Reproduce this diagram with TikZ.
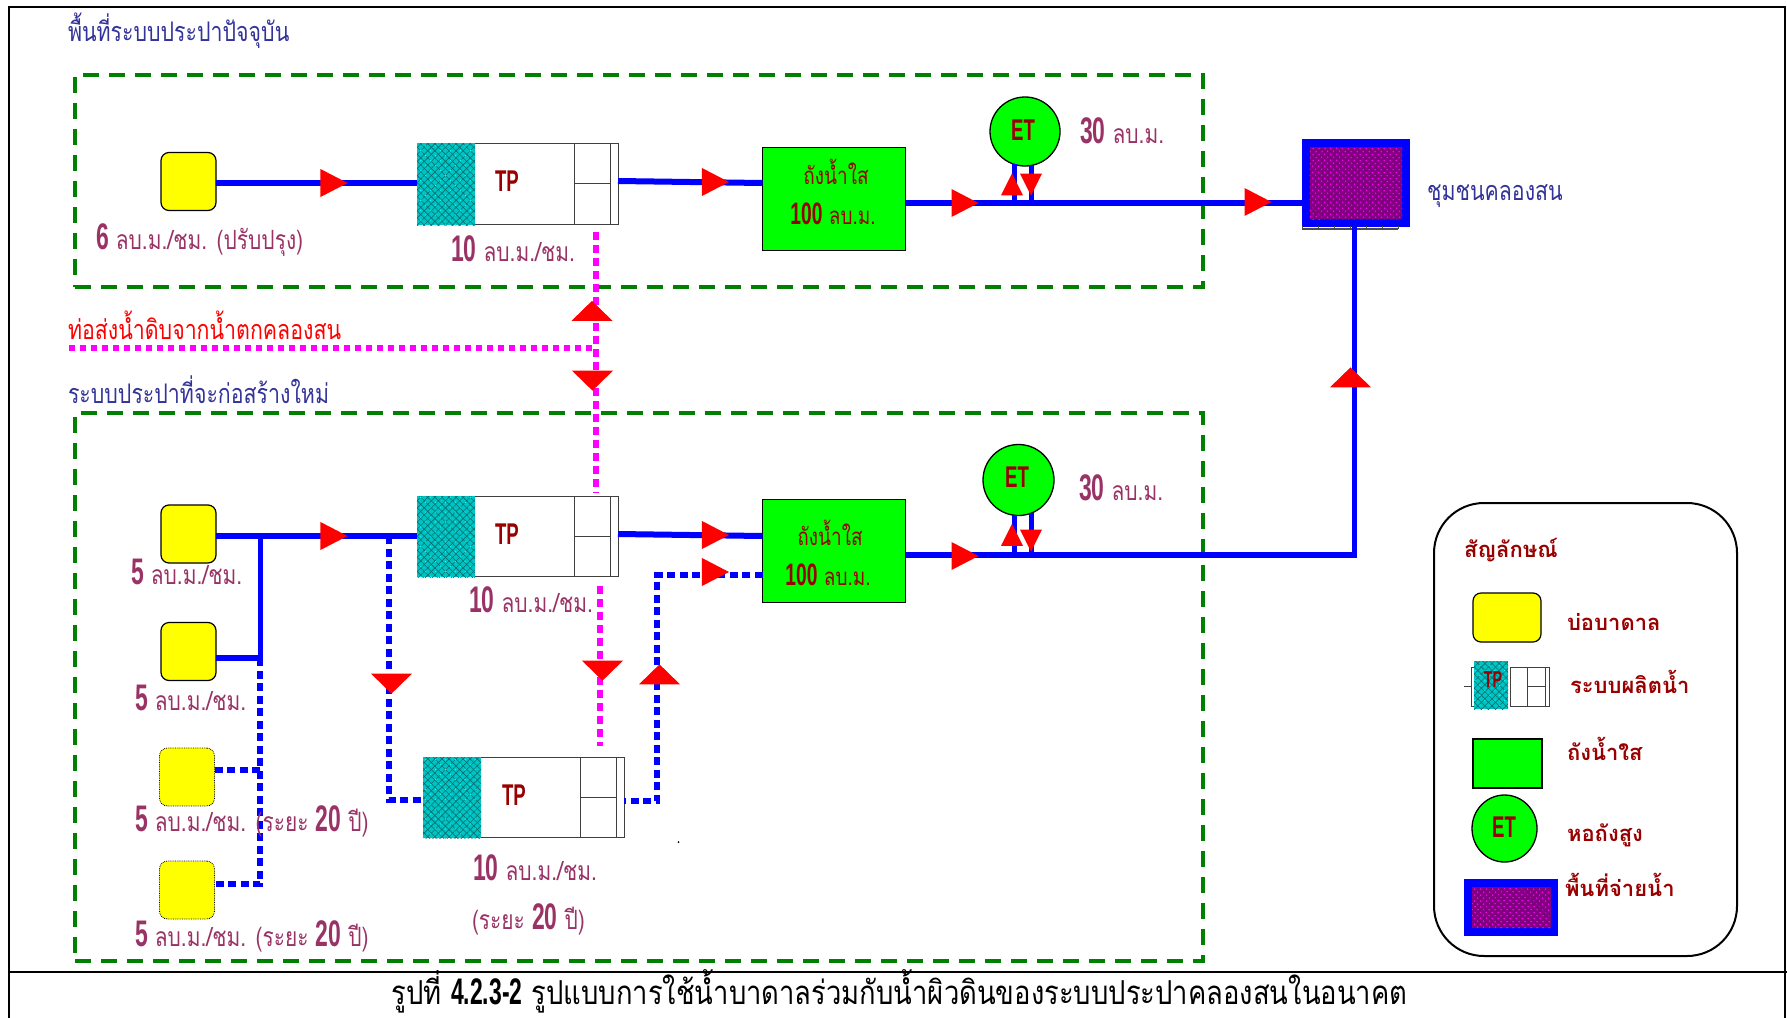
\documentclass[tikz,border=0pt]{standalone}
\usepackage{fontspec}
\usepackage{tikz}
\usetikzlibrary{shapes.geometric, patterns.meta, calc}
\newfontfamily\thaicond[Script=Thai,FakeStretch=0.79]{Loma}
\newfontfamily\thaicap[Script=Thai,FakeStretch=0.83]{Loma}
\newfontfamily\thaiwide[Script=Thai,FakeStretch=1.0]{Loma}
\newfontfamily\numfont[FakeStretch=0.62]{Liberation Sans}
\newcommand{\bignum}[1]{{\numfont\bfseries\fontsize{37}{37}\selectfont #1}}
\newcommand{\tanknum}[1]{{\numfont\bfseries\fontsize{31}{31}\selectfont #1}}
\definecolor{lblcol}{HTML}{993366}
\definecolor{navycol}{HTML}{333399}
\definecolor{darkred}{HTML}{990000}
\definecolor{boxgreen}{HTML}{008000}
\definecolor{hatchteal}{HTML}{00C4C4}
\definecolor{hatchline}{HTML}{006E6E}
\definecolor{yellow}{RGB}{255,255,0}
\definecolor{green}{RGB}{0,255,0}
\definecolor{blue}{RGB}{0,0,255}
\definecolor{red}{RGB}{255,0,0}
\definecolor{cyan}{RGB}{0,255,255}
\definecolor{magenta}{RGB}{255,0,255}
\definecolor{townpurple}{RGB}{128,0,128}

\begin{document}
\begin{tikzpicture}[x=1pt, y=-1pt,
    every node/.style={outer sep=0pt},
    thai/.style={inner sep=0pt, font=\thaicond\fontsize{27}{27}\selectfont},
    rate/.style={inner sep=0pt, text=lblcol, font=\thaicond\fontsize{26.5}{26.5}\selectfont},
    header/.style={thai, text=navycol},
    redtxt/.style={inner sep=0pt, text=darkred, font=\thaicond\fontsize{24}{24}\selectfont},
    legtxt/.style={inner sep=0pt, anchor=west, text=darkred, font=\thaiwide\bfseries\fontsize{22}{22}\selectfont},
    code/.style={inner sep=0pt, text=darkred, font=\numfont\bfseries\fontsize{30}{30}\selectfont},
    zone/.style={draw=boxgreen, line width=3.5pt, dash pattern=on 16pt off 10pt, anchor=north west, inner sep=0pt},
    well/.style={draw=black, line width=1.2pt, fill=yellow, rounded corners=8pt, inner sep=0pt, minimum width=55pt, minimum height=58pt},
    futurewell/.style={well, line width=.8pt, densely dotted},
    tank/.style={draw=black, line width=1.5pt, fill=green, anchor=north west, inner sep=0pt},
    tower/.style={draw=black, line width=1.3pt, fill=green, ellipse, inner sep=0pt},
    plant/.style={draw=black!75, line width=1pt, fill=white, anchor=north west, inner sep=0pt},
    media/.style={anchor=north west, inner sep=0pt, fill=hatchteal,
        postaction={pattern={Lines[angle=45, distance=5pt, line width=.6pt]}, pattern color=hatchline},
        postaction={pattern={Lines[angle=-45, distance=5pt, line width=.6pt]}, pattern color=hatchline},
        postaction={pattern={Dots[angle=45, distance=7pt, radius=.8pt]}, pattern color=cyan}},
    served/.style={fill=blue, anchor=north west, inner sep=0pt},
    servedin/.style={inner sep=0pt, anchor=north west, fill=townpurple, postaction={pattern={Dots[angle=45, distance=4pt, radius=.85pt]}, pattern color=magenta}},
    pipe/.style={blue, line width=6pt},
    thinpipe/.style={blue, line width=5pt},
    plan/.style={blue, line width=5.5pt, dash pattern=on 8pt off 4.5pt},
    raw/.style={magenta, line width=5.5pt, dash pattern=on 8pt off 5pt},
    triR/.style={fill=red, inner sep=0pt, isosceles triangle, isosceles triangle stretches, minimum height=27pt, minimum width=28pt},
    triU/.style={triR, shape border rotate=90, minimum height=20pt, minimum width=41pt},
    triD/.style={triR, shape border rotate=-90, minimum height=20pt, minimum width=41pt},
    triu/.style={triR, shape border rotate=90, minimum height=22pt, minimum width=22pt},
    trid/.style={triR, shape border rotate=-90, minimum height=22pt, minimum width=22pt}
]
    \useasboundingbox (0,0) rectangle (1787,1017);

    \draw[black, line width=2.5pt] (9,1030) -- (9,7) -- (1785,7) -- (1785,1030);
    \draw[black, line width=2pt] (9,972) -- (1787,972);

    \node[zone, minimum width=1128pt, minimum height=212pt] (zonea) at (75,75) {};
    \node[zone, minimum width=1128pt, minimum height=548pt] (zoneb) at (75,413) {};

    \node[well] (wella) at (188.5,181.5) {};
    \node[well] (wellb) at (188.5,534) {};
    \node[well] (wellc) at (188.5,651.5) {};
    \node[futurewell] (welld) at (187,777) {};
    \node[futurewell] (welle) at (187,890) {};

    \foreach \n/\px/\py/\ph in {a/417/143/81, b/417/496/80, c/423/757/80} {
        \node[plant, minimum width=201pt, minimum height=\ph pt] (tp\n) at (\px,\py) {};
        \node[media, minimum width=58pt, minimum height=\ph pt+1pt] (media\n) at (\px,\py) {};
        \draw[black!75, line width=1pt] ($(tp\n.north west)+(157,0)$) -- ($(tp\n.south west)+(157,0)$);
        \draw[black!75, line width=1pt] ($(tp\n.north west)+(193,0)$) -- ($(tp\n.south west)+(193,0)$);
        \draw[black!75, line width=1pt] ($(tp\n.west)+(157,0)$) -- ($(tp\n.west)+(193,0)$);
    }

    \node[tank, minimum width=143pt, minimum height=103pt] (tanka) at (762.5,147.5) {};
    \node[tank, minimum width=143pt, minimum height=103pt] (tankb) at (762.5,499.5) {};
    \node[tower, minimum width=70pt, minimum height=69pt] (towera) at (1025,131.5) {};
    \node[tower, minimum width=71pt, minimum height=71pt] (towerb) at (1018.5,480) {};
    \node[served, minimum width=108pt, minimum height=88pt] (town) at (1302,139) {};
    \node[servedin, minimum width=92.5pt, minimum height=72pt] (townin) at (1309.5,147) {};
    \draw[black!70, line width=1.5pt] (1302,229) -- (1398,229);
    \foreach \tx in {1302,1318,...,1398} {\draw[black!70, line width=.8pt] (\tx,226) -- (\tx,229);}

    \coordinate (maina) at (906,203);
    \coordinate (mainb) at (906,555);
    \coordinate (corner) at (1354,555);
    \coordinate (joint) at (260,658);
    \coordinate (splita) at (260,536);
    \coordinate (splitb) at (389,536);
    \coordinate (rawjoint) at (596,348);
    \coordinate (rawstart) at (69,348);
    \coordinate (rawtop) at (596,232);
    \coordinate (rawlow) at (596,493);
    \coordinate (rawplanta) at (600,586);
    \coordinate (rawplantb) at (600,746);
    \coordinate (returnup) at (657,801);
    \coordinate (returnin) at (657,575);

    \draw[raw] (rawtop) -- (rawlow);
    \draw[raw, dash pattern=on 6pt off 5pt] (rawstart) -- (rawjoint);
    \draw[raw] (rawplanta) -- (rawplantb);

    \draw[pipe] (wella.east |- 0,183) -- (mediaa.west |- 0,183);
    \draw[pipe] (618,181) -- (tanka.west |- 0,183);
    \draw[pipe] (maina) -- (town.west |- maina);
    \draw[thinpipe] (towera.-108) -- (towera.-108 |- maina);
    \draw[thinpipe] (towera.-80) -- (towera.-80 |- maina);

    \draw[pipe] (wellb.east |- splita) -- (mediab.west |- splita);
    \draw[pipe] (618,534) -- (tankb.west |- splita);
    \draw[thinpipe] (splita) -- (joint);
    \draw[pipe] (wellc.east |- joint) -- ([xshift=3pt]joint);
    \draw[pipe] (mainb) -- ([xshift=2.5pt]corner);
    \draw[thinpipe] (corner) -- (town.south -| corner);
    \draw[thinpipe] (towerb.-97) -- (towerb.-97 |- mainb);
    \draw[thinpipe] (towerb.-69) -- (towerb.-69 |- mainb);

    \draw[plan] (joint) -- (260,884) -- (welle.east |- 0,884);
    \draw[plan] (260,770) -- (welld.east |- 0,770);
    \draw[plan] (splitb) -- (389,800) -- (mediac.west |- 0,800);
    \draw[plan] (tankb.west |- returnin) -- (returnin) -- (returnup) -- (tpc.east |- returnup);

    \node[triR] (flowa) at (329,183) {};
    \node[triR] (flowb) at (710.5,182) {};
    \node[triR] (flowc) at (960,203) {};
    \node[triR] (flowd) at (1253,202) {};
    \node[triu] (flowe) at (1012,188.5) {};
    \node[trid] (flowf) at (1031,180.5) {};
    \node[triU] (flowg) at (592,312.5) {};
    \node[triD] (flowh) at (592.5,379) {};
    \node[triU] (flowi) at (1350.5,379) {};
    \node[triR] (flowj) at (329,536) {};
    \node[triR] (flowk) at (710.5,535) {};
    \node[triR] (flowl) at (710.5,572) {};
    \node[triR] (flowm) at (960,556) {};
    \node[triu] (flown) at (1012,539) {};
    \node[trid] (flowo) at (1031,536.5) {};
    \node[triD] (flowp) at (391.5,682) {};
    \node[triD] (flowq) at (602.5,669) {};
    \node[triU] (flowr) at (659.5,676) {};

    \node[code] (tpla) at (507,181) {TP};
    \node[code] (tplb) at (507,534) {TP};
    \node[code] (tplc) at (514,795) {TP};
    \node[code] (etla) at (1023,130) {ET};
    \node[code] (etlb) at (1017,477) {ET};

    \node[header, anchor=west] (titlea) at (68,31) {พื้นที่ระบบประปาปัจจุบัน};
    \node[header, anchor=west] (titleb) at (68,390) {ระบบประปาที่จะก่อสร้างใหม่};
    \node[thai, text=red, anchor=west] (rawname) at (68,325) {ท่อส่งน้ำดิบจากน้ำตกคลองสน};
    \node[header, anchor=west] (townname) at (1427,196) {ชุมชนคลองสน};

    \node[rate, anchor=west] (ratea) at (96,240) {\bignum{6} ลบ.ม./ชม. (ปรับปรุง)};
    \node[rate, anchor=west] (rateb) at (451,249) {\bignum{10} ลบ.ม./ชม.};
    \node[rate, anchor=west] (ratec) at (131,572) {\bignum{5} ลบ.ม./ชม.};
    \node[rate, anchor=west] (rated) at (135,698) {\bignum{5} ลบ.ม./ชม.};
    \node[rate, anchor=west] (ratee) at (135,821) {\bignum{5} ลบ.ม./ชม. (ระยะ \bignum{20} ปี)};
    \node[rate, anchor=west] (ratef) at (135,936) {\bignum{5} ลบ.ม./ชม. (ระยะ \bignum{20} ปี)};
    \node[rate, anchor=west] (rateg) at (469,600) {\bignum{10} ลบ.ม./ชม.};
    \node[rate, anchor=west] (rateh) at (473,868) {\bignum{10} ลบ.ม./ชม.};
    \node[rate, anchor=west] (ratei) at (472,919) {(ระยะ \bignum{20} ปี)};
    \node[rate, anchor=west] (ratej) at (1080,131) {\bignum{30} ลบ.ม.};
    \node[rate, anchor=west] (ratek) at (1079,488) {\bignum{30} ลบ.ม.};

    \node[redtxt] (tanklaa) at (836,172) {ถังน้ำใส};
    \node[redtxt] (tanklab) at (833,214) {\tanknum{100} ลบ.ม.};
    \node[redtxt] (tanklba) at (830,533) {ถังน้ำใส};
    \node[redtxt] (tanklbb) at (828,575) {\tanknum{100} ลบ.ม.};

    \node[circle, fill=black, inner sep=0pt, minimum size=2pt] (speck) at (678.5,842) {};

    \node[draw=black, line width=2pt, rounded corners=50pt, anchor=north west, minimum width=303pt, minimum height=453pt] (legend) at (1434,503) {};
    \node[legtxt] (legtitle) at (1464,550) {สัญลักษณ์};
    \node[well, minimum width=68pt, minimum height=49pt] (legwell) at (1507,617.5) {};
    \node[plant, minimum width=39pt, minimum height=39pt] (legplant) at (1510,667) {};
    \draw[black!75, line width=1pt] (1527,667) -- (1527,706) (1527,686) -- (1545,686) (1545,667) -- (1545,706);
    \draw[black!75, line width=1pt] (1474,667) -- (1471,667) -- (1471,706) -- (1474,706) (1464,686) -- (1471,686);
    \node[media, minimum width=34pt, minimum height=48pt] (legmedia) at (1474,661) {};
    \node[code, font=\numfont\bfseries\fontsize{23}{23}\selectfont] (legtp) at (1493,680) {TP};
    \node[tank, minimum width=69pt, minimum height=49pt] (legtank) at (1473,739) {};
    \node[tower, minimum width=65pt, minimum height=67pt] (legtower) at (1504.5,828.5) {};
    \node[code] (leget) at (1504,827) {ET};
    \node[served, minimum width=94pt, minimum height=57pt] (legserved) at (1464,879) {};
    \node[servedin, minimum width=79pt, minimum height=41pt] (legservedin) at (1472,887) {};
    \node[legtxt] (legwellt) at (1567,622) {บ่อบาดาล};
    \node[legtxt] (legplantt) at (1570,682) {ระบบผลิตน้ำ};
    \node[legtxt] (legtankt) at (1567,749) {ถังน้ำใส};
    \node[legtxt] (legtowert) at (1567,835) {หอถังสูง};
    \node[legtxt] (legservedt) at (1565,885) {พื้นที่จ่ายน้ำ};

    \node[thai, text=black, font=\thaicap\fontsize{33}{33}\selectfont] (caption) at (899.5,991) {รูปที่ \bignum{4.2.3-2} รูปแบบการใช้น้ำบาดาลร่วมกับน้ำผิวดินของระบบประปาคลองสนในอนาคต};
\end{tikzpicture}
\end{document}
